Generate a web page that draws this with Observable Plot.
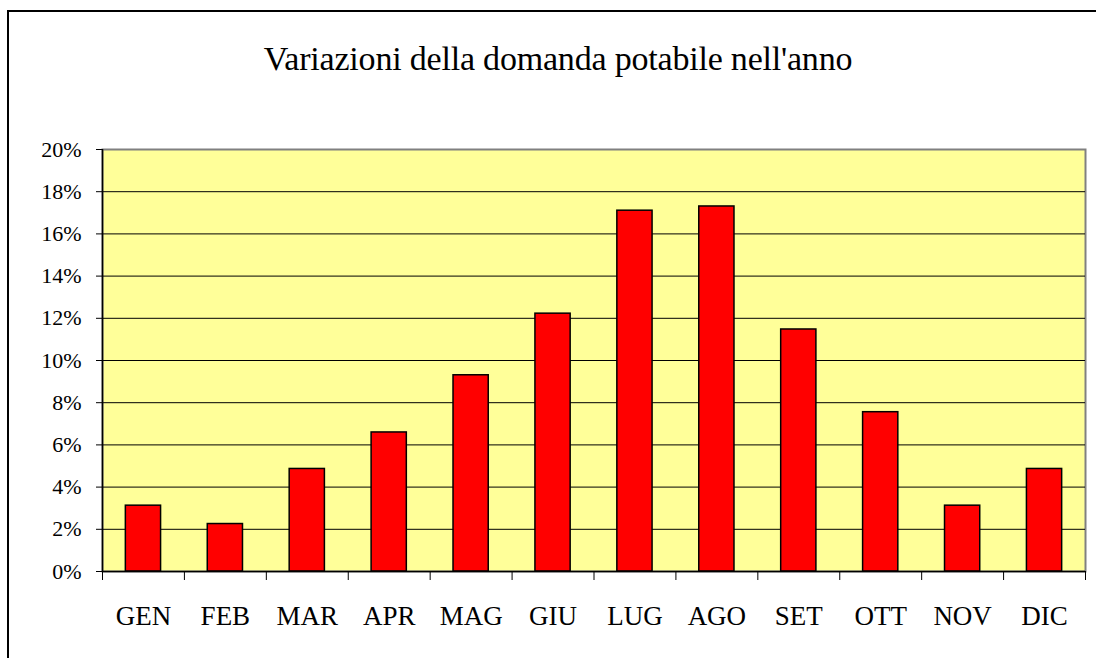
<!DOCTYPE html>
<html>
<head>
<meta charset="utf-8">
<script src="https://cdn.jsdelivr.net/npm/d3@7"></script>
<script src="https://cdn.jsdelivr.net/npm/@observablehq/plot@0.6"></script>
<style>
  html, body { margin: 0; padding: 0; background: #fff; }
  #chart { position: relative; width: 1096px; height: 658px; overflow: hidden; background: #fff;
           font-family: "Times New Roman", "Liberation Serif", serif; }
  #border { position: absolute; left: 7px; top: 10px; width: 1200px; height: 800px;
            border-left: 2px solid #000; border-top: 2px solid #000; box-sizing: border-box; }
  #title { position: absolute; left: 10px; top: 0; width: 1096px; height: 120px; box-sizing: border-box;
           padding-top: 41.5px; text-align: center; font-size: 34px; line-height: 34px; color: #000;
           letter-spacing: -0.2px; }
  #plot { position: absolute; left: 0; top: 120px; }
</style>
</head>
<body>
<div id="chart">
  <div id="border"></div>
  <div id="title">Variazioni della domanda potabile nell'anno</div>
  <div id="plot"></div>
</div>
<script>
const months = ["GEN","FEB","MAR","APR","MAG","GIU","LUG","AGO","SET","OTT","NOV","DIC"];
const values = [3.12, 2.25, 4.86, 6.59, 9.30, 12.22, 17.10, 17.30, 11.47, 7.55, 3.12, 4.86];
const yTicks = [0, 2, 4, 6, 8, 10, 12, 14, 16, 18, 20];
const gridTicks = [2, 4, 6, 8, 10, 12, 14, 16, 18];

const data = months.map((m, i) => ({month: m, value: values[i]}));

const W = 1096, H = 538;
const mL = 102, mR = 11, mT = 29, mB = 87;
const step = (W - mL - mR) / months.length;
const font = "'Times New Roman', 'Liberation Serif', serif";

const chart = Plot.plot({
  width: W,
  height: H,
  marginLeft: mL,
  marginRight: mR,
  marginTop: mT,
  marginBottom: mB,
  style: { fontFamily: font, color: "#000", background: "transparent", overflow: "visible" },
  x: { domain: months, paddingInner: 0.57, paddingOuter: 0.285, round: false, axis: null, label: null },
  y: { domain: [0, 20], axis: null, label: null },
  marks: [
    Plot.frame({ fill: "#FFFF99", stroke: "#808080", strokeWidth: 2 }),
    Plot.ruleY(gridTicks, { stroke: "#000", strokeWidth: 1 }),
    Plot.barY(data, { x: "month", y: "value", fill: "#FF0000", stroke: "#000", strokeWidth: 1.5 }),
    Plot.ruleY([0], { stroke: "#000", strokeWidth: 1.5 }),
    Plot.ruleX([months[0]], { dx: -step / 2, stroke: "#000", strokeWidth: 1.5 }),
    Plot.axisY({ ticks: yTicks, tickFormat: d => d + "%", tickSize: 6, tickPadding: 15, label: null,
                 fontSize: 22, stroke: "#000", fill: "#000" }),
    Plot.axisX({ ticks: months, tickFormat: () => "", tickSize: 9, dx: -step / 2, stroke: "#000", label: null }),
    Plot.axisX({ ticks: [months[months.length - 1]], tickFormat: () => "", tickSize: 9, dx: step / 2, stroke: "#000", label: null }),
    Plot.axisX({ ticks: months, tickSize: 0, tickPadding: 34, fontSize: 27, fill: "#000", label: null,
                 style: "letter-spacing:-0.6px" })
  ]
});
document.getElementById("plot").appendChild(chart);
</script>
</body>
</html>
